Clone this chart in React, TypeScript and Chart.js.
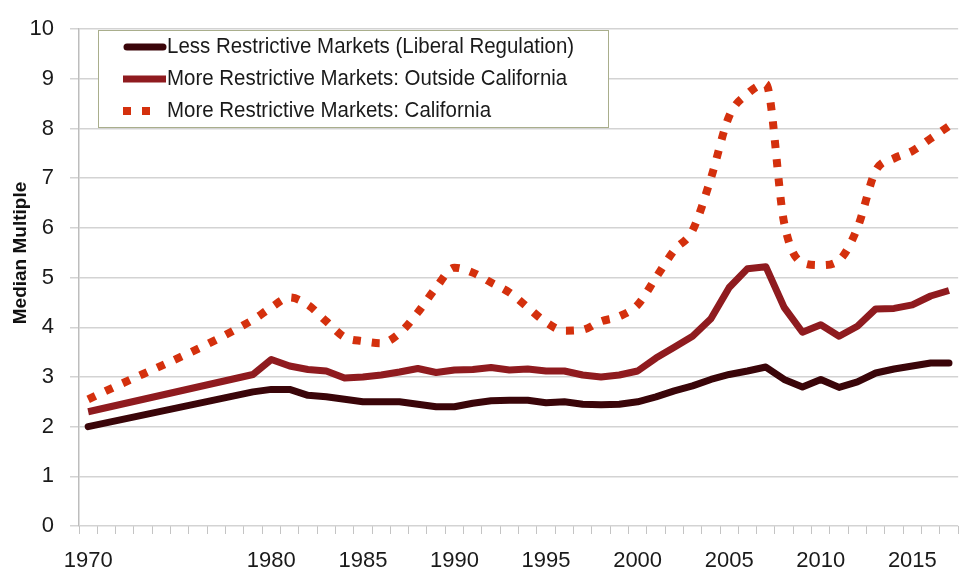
import React, { useEffect, useRef } from 'react';
import { Chart, registerables } from 'chart.js';

Chart.register(...registerables);

const years = [
  1970, 1971, 1972, 1973, 1974, 1975, 1976, 1977, 1978, 1979,
  1980, 1981, 1982, 1983, 1984, 1985, 1986, 1987, 1988, 1989,
  1990, 1991, 1992, 1993, 1994, 1995, 1996, 1997, 1998, 1999,
  2000, 2001, 2002, 2003, 2004, 2005, 2006, 2007, 2008, 2009,
  2010, 2011, 2012, 2013, 2014, 2015, 2016, 2017,
];

const labelledYears = [1970, 1980, 1985, 1990, 1995, 2000, 2005, 2010, 2015];

const seriesNames = [
  'Less Restrictive Markets (Liberal Regulation)',
  'More Restrictive Markets: Outside California',
  'More Restrictive Markets: California',
];

const lessRestrictive = [
  2.0, null, null, null, null, null, null, null, null,
  2.7, 2.75, 2.75, 2.63, 2.6, 2.55, 2.5, 2.5, 2.5, 2.45, 2.4,
  2.4, 2.47, 2.52, 2.53, 2.53, 2.48, 2.5, 2.45, 2.44, 2.45,
  2.5, 2.6, 2.72, 2.82, 2.95, 3.05, 3.12, 3.2, 2.95, 2.8,
  2.95, 2.79, 2.9, 3.08, 3.16, 3.22, 3.28, 3.28,
];

const outsideCalifornia = [
  2.3, null, null, null, null, null, null, null, null,
  3.05, 3.35, 3.22, 3.15, 3.12, 2.98, 3.0, 3.04, 3.1, 3.17, 3.09,
  3.14, 3.15, 3.19, 3.14, 3.16, 3.12, 3.12, 3.04, 3.0, 3.04,
  3.12, 3.38, 3.6, 3.82, 4.17, 4.8, 5.18, 5.22, 4.4, 3.9,
  4.05, 3.82, 4.02, 4.37, 4.38, 4.45, 4.63, 4.74,
];

const california = [
  2.55, null, null, null, null, null, null, null, null,
  4.15, 4.4, 4.6, 4.45, 4.12, 3.8, 3.72, 3.68, 3.88, 4.3, 4.8,
  5.2, 5.1, 4.9, 4.7, 4.4, 4.1, 3.93, 3.95, 4.12, 4.22,
  4.45, 5.0, 5.55, 5.95, 7.0, 8.25, 8.7, 8.9, 6.1, 5.3,
  5.25, 5.35, 6.0, 7.15, 7.4, 7.55, 7.8, 8.05,
];

const yTicks = [0, 1, 2, 3, 4, 5, 6, 7, 8, 9, 10];
const yTitle = 'Median Multiple';

const SANS = '"Liberation Sans", Arial, sans-serif';

const boxLegend = {
  id: 'boxLegend',
  afterDraw(chart: any) {
    const ctx = chart.ctx as CanvasRenderingContext2D;
    ctx.save();
    ctx.fillStyle = '#ffffff';
    ctx.fillRect(98, 30, 510, 97);
    ctx.strokeStyle = '#a9ae8c';
    ctx.lineWidth = 1;
    ctx.setLineDash([]);
    ctx.strokeRect(98.5, 30.5, 510, 97);
    chart.data.datasets.forEach((ds: any, i: number) => {
      const y = 47 + i * 32;
      const dashed = ds.borderDash && ds.borderDash.length;
      ctx.beginPath();
      ctx.setLineDash(ds.borderDash || []);
      ctx.lineCap = ds.borderCapStyle || 'butt';
      ctx.lineWidth = ds.borderWidth;
      ctx.strokeStyle = ds.borderColor;
      const x0 = dashed ? 123 : ds.borderCapStyle === 'round' ? 127 : 123;
      const x1 = dashed ? 160 : ds.borderCapStyle === 'round' ? 163 : 166;
      ctx.moveTo(x0, y);
      ctx.lineTo(x1, y);
      ctx.stroke();
      ctx.setLineDash([]);
      ctx.save();
      ctx.translate(167, y);
      ctx.scale(0.93, 1);
      ctx.fillStyle = '#1a1a1a';
      ctx.font = `22px ${SANS}`;
      ctx.textAlign = 'left';
      ctx.textBaseline = 'middle';
      ctx.fillText(ds.label, 0, 0);
      ctx.restore();
    });
    ctx.translate(21, 253);
    ctx.rotate(-Math.PI / 2);
    ctx.font = `bold 19px ${SANS}`;
    ctx.textAlign = 'center';
    ctx.textBaseline = 'middle';
    ctx.fillStyle = '#111111';
    ctx.fillText(yTitle, 0, 0);
    ctx.restore();
  },
};

export default function App() {
  const ref = useRef<HTMLCanvasElement>(null);

  useEffect(() => {
    if (!ref.current) return;
    const chart = new Chart(ref.current, {
      type: 'line',
      data: {
        labels: years.map(String),
        datasets: [
          {
            label: seriesNames[0],
            data: lessRestrictive,
            borderColor: '#3a0509',
            backgroundColor: '#3a0509',
            borderWidth: 7,
            borderCapStyle: 'round',
            borderJoinStyle: 'round',
            pointRadius: 0,
            spanGaps: true,
            tension: 0,
          },
          {
            label: seriesNames[1],
            data: outsideCalifornia,
            borderColor: '#8f1b1f',
            backgroundColor: '#8f1b1f',
            borderWidth: 7,
            borderCapStyle: 'butt',
            borderJoinStyle: 'round',
            pointRadius: 0,
            spanGaps: true,
            tension: 0,
          },
          {
            label: seriesNames[2],
            data: california,
            borderColor: '#d4300d',
            backgroundColor: '#d4300d',
            borderWidth: 8,
            borderDash: [8, 11],
            borderCapStyle: 'butt',
            borderJoinStyle: 'miter',
            pointRadius: 0,
            spanGaps: true,
            cubicInterpolationMode: 'monotone',
          },
        ] as any,
      },
      options: {
        animation: false,
        responsive: false,
        devicePixelRatio: 1,
        layout: { padding: { top: 20, right: 1, left: 0, bottom: 0 } },
        plugins: {
          legend: { display: false },
          tooltip: { enabled: false },
          title: { display: false },
        },
        scales: {
          x: {
            type: 'category',
            offset: true,
            grid: {
              display: true,
              drawOnChartArea: false,
              drawTicks: true,
              tickLength: 8,
              offset: true,
              color: '#c4c4c4',
              lineWidth: 1,
            },
            border: { display: false },
            ticks: {
              autoSkip: false,
              maxRotation: 0,
              minRotation: 0,
              padding: 14,
              color: '#1a1a1a',
              font: { family: SANS, size: 22 },
              callback: (_v: any, i: number) =>
                labelledYears.includes(years[i]) ? String(years[i]) : '',
            },
            afterFit: (s: any) => {
              s.height = 50;
            },
          },
          y: {
            min: yTicks[0],
            max: yTicks[yTicks.length - 1],
            grid: {
              color: '#d3d3d3',
              lineWidth: 1.5,
              drawTicks: true,
              tickLength: 9,
            },
            border: { display: true, color: '#bdbdbd', width: 1.5 },
            ticks: {
              stepSize: 1,
              padding: 16,
              color: '#1a1a1a',
              font: { family: SANS, size: 22 },
            },
            afterFit: (s: any) => {
              s.width = 79;
            },
          },
        },
      },
      plugins: [boxLegend],
    });
    return () => chart.destroy();
  }, []);

  return (
    <div style={{ position: 'absolute', left: 0, top: 0, width: 963, height: 576, background: '#fff' }}>
      <canvas ref={ref} width={963} height={576} />
    </div>
  );
}
